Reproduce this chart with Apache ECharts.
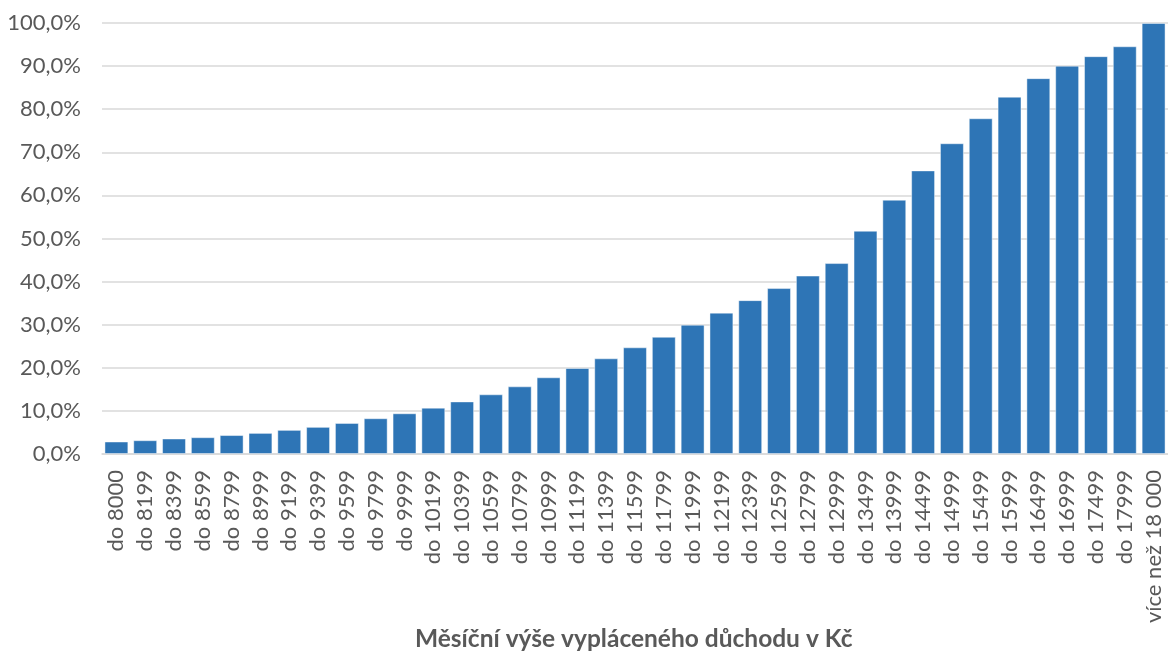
<!DOCTYPE html>
<html>
<head>
<meta charset="utf-8">
<script src="https://cdn.jsdelivr.net/npm/echarts@6/dist/echarts.min.js"></script>
<style>
html,body{margin:0;padding:0;background:#fff;}
#chart{width:1168px;height:657px;}
</style>
</head>
<body>
<div id="chart"></div>
<script>
var categories = ["do 8000","do 8199","do 8399","do 8599","do 8799","do 8999","do 9199","do 9399","do 9599","do 9799","do 9999","do 10199","do 10399","do 10599","do 10799","do 10999","do 11199","do 11399","do 11599","do 11799","do 11999","do 12199","do 12399","do 12599","do 12799","do 12999","do 13499","do 13999","do 14499","do 14999","do 15499","do 15999","do 16499","do 16999","do 17499","do 17999","více než 18 000"];
var values = [2.9,3.2,3.6,3.9,4.4,4.9,5.6,6.3,7.2,8.3,9.45,10.75,12.2,13.85,15.7,17.8,19.95,22.2,24.75,27.2,30.0,32.8,35.7,38.5,41.4,44.3,51.8,59.0,65.8,72.1,77.9,82.9,87.2,90.1,92.3,94.6,100];
var axisTitle = "Měsíční výše vypláceného důchodu v Kč";

var font = "Lato, 'Open Sans', sans-serif";
var chart = echarts.init(document.getElementById('chart'), null, {renderer:'canvas'});
chart.setOption({
  animation:false,
  backgroundColor:'#ffffff',
  grid:{left:102, top:23, width:1069, height:431, containLabel:false},
  graphic:[{
    type:'text',
    left:415, top:627,
    style:{text: axisTitle, fontFamily:font, fontSize:24.5, fontWeight:'bold', fill:'#595959'}
  }],
  xAxis:{
    type:'category',
    data:categories,
    axisTick:{show:false},
    axisLine:{show:true, lineStyle:{color:'#d9d9d9', width:1.5}},
    axisLabel:{rotate:90, interval:0, margin:16, fontFamily:font, fontSize:22, color:'#595959'}
  },
  yAxis:{
    type:'value',
    min:0, max:100, interval:10,
    axisLine:{show:false},
    axisTick:{show:false},
    splitLine:{lineStyle:{color:'#d9d9d9', width:1.5}},
    axisLabel:{margin:21, fontFamily:font, fontSize:22, color:'#595959',
      formatter:function(v){return v.toFixed(1).replace('.',',')+'%';}}
  },
  series:[{
    type:'bar',
    data:values,
    barCategoryGap:'17%',
    itemStyle:{color:'#2E75B6', borderColor:'rgba(255,255,255,0.45)', borderWidth:1}
  }]
});
</script>
</body>
</html>
